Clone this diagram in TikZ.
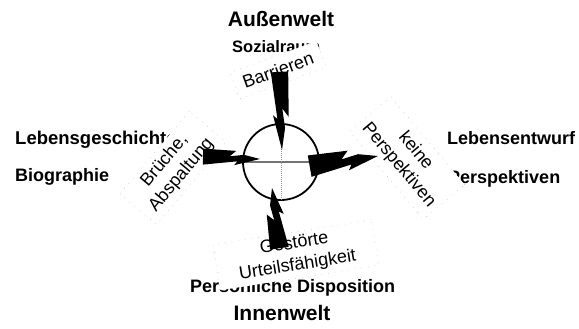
\documentclass[tikz,border=0pt]{standalone}
\usepackage{fontspec}
\setmainfont{Liberation Sans}
\usetikzlibrary{calc}
\newcommand\blitz[3]{%
  \pgfmathanglebetweenpoints{\pgfpointanchor{#1}{center}}{\pgfpointanchor{#2}{center}}%
  \edef\blitzang{\pgfmathresult}%
  \pgfpointdiff{\pgfpointanchor{#1}{center}}{\pgfpointanchor{#2}{center}}%
  \pgfgetlastxy\blitzdx\blitzdy
  \pgfmathveclen{\blitzdx}{\blitzdy}\edef\blitzlen{\pgfmathresult}%
  \begin{scope}[shift={(#1)}, rotate=\blitzang, x=\blitzlen pt, y=#3 pt]
    \fill[boltfill] (0,0.85) -- (0.58,0.7) -- (0.47,0.2) -- (0.72,0.35) -- (1,0)
      -- (0.55,-0.6) -- (0.6,-0.25) -- (0,-0.6) -- cycle;
  \end{scope}}
\begin{document}
\begin{tikzpicture}[x=1pt,y=-1pt,
  title/.style={font=\fontsize{21}{25}\selectfont\bfseries, anchor=base, inner sep=0pt},
  cat/.style={font=\fontsize{18}{22}\selectfont\bfseries, anchor=base west, inner sep=0pt},
  lab/.style={font=\fontsize{18}{22}\selectfont, fill=white, draw=black!30,
    dash pattern=on 0.7pt off 6pt, align=center, inner sep=2pt},
  boltfill/.style={fill=black}]
\useasboundingbox (0,0) rectangle (579,329);
% main texts
\node[title] (aw) at (281,27) {Außenwelt};
\node[cat, font=\fontsize{16.5}{19}\selectfont\bfseries] (soz) at (232,53) {Sozialraum};
\node[cat, font=\fontsize{18.5}{22}\selectfont\bfseries] (lg) at (15,145) {Lebensgeschichte};
\node[cat] (bio) at (15,182) {Biographie};
\node[cat] (le) at (447,145) {Lebensentwurf};
\node[cat] (pe) at (448,183) {Perspektiven};
\node[cat] (pd) at (190,292) {Persönliche Disposition};
\node[title] (iw) at (282,320) {Innenwelt};
% rotated label boxes
\node[lab, rotate=20, minimum width=92pt, minimum height=28pt] (bar) at (278,70) {Barrieren};
\node[lab, rotate=50, minimum width=108pt, minimum height=48pt] (bru) at (173,168) {Brüche,\\Abspaltung};
\node[lab, rotate=-50, minimum width=115pt, minimum height=54pt] (kp) at (407,158) {keine\\Perspektiven};
\node[lab, rotate=9, minimum width=160pt, minimum height=46pt] (gu) at (296,255) {Gestörte\\Urteilsfähigkeit};
% circle with crosshair
\node[circle, draw, line width=1.8pt, minimum size=76pt, inner sep=0pt] (c) at (281,162) {};
\draw[black!55, line width=1.2pt] (c.west) -- (c.east);
\draw[black!40, line width=0.8pt, dash pattern=on 1pt off 1pt] (c.north) -- (c.south);
% bolt end points
\coordinate (tA) at (278,72);   \coordinate (tB) at (282,150);
\coordinate (lA) at (203,158);  \coordinate (lB) at (260,159);
\coordinate (rA) at (310,168);  \coordinate (rB) at (378,156);
\coordinate (bA) at (281,248);  \coordinate (bB) at (272,188);
\blitz{tA}{tB}{12}
\blitz{lA}{lB}{11}
\blitz{rA}{rB}{15}
\blitz{bA}{bB}{13}
\end{tikzpicture}
\end{document}
